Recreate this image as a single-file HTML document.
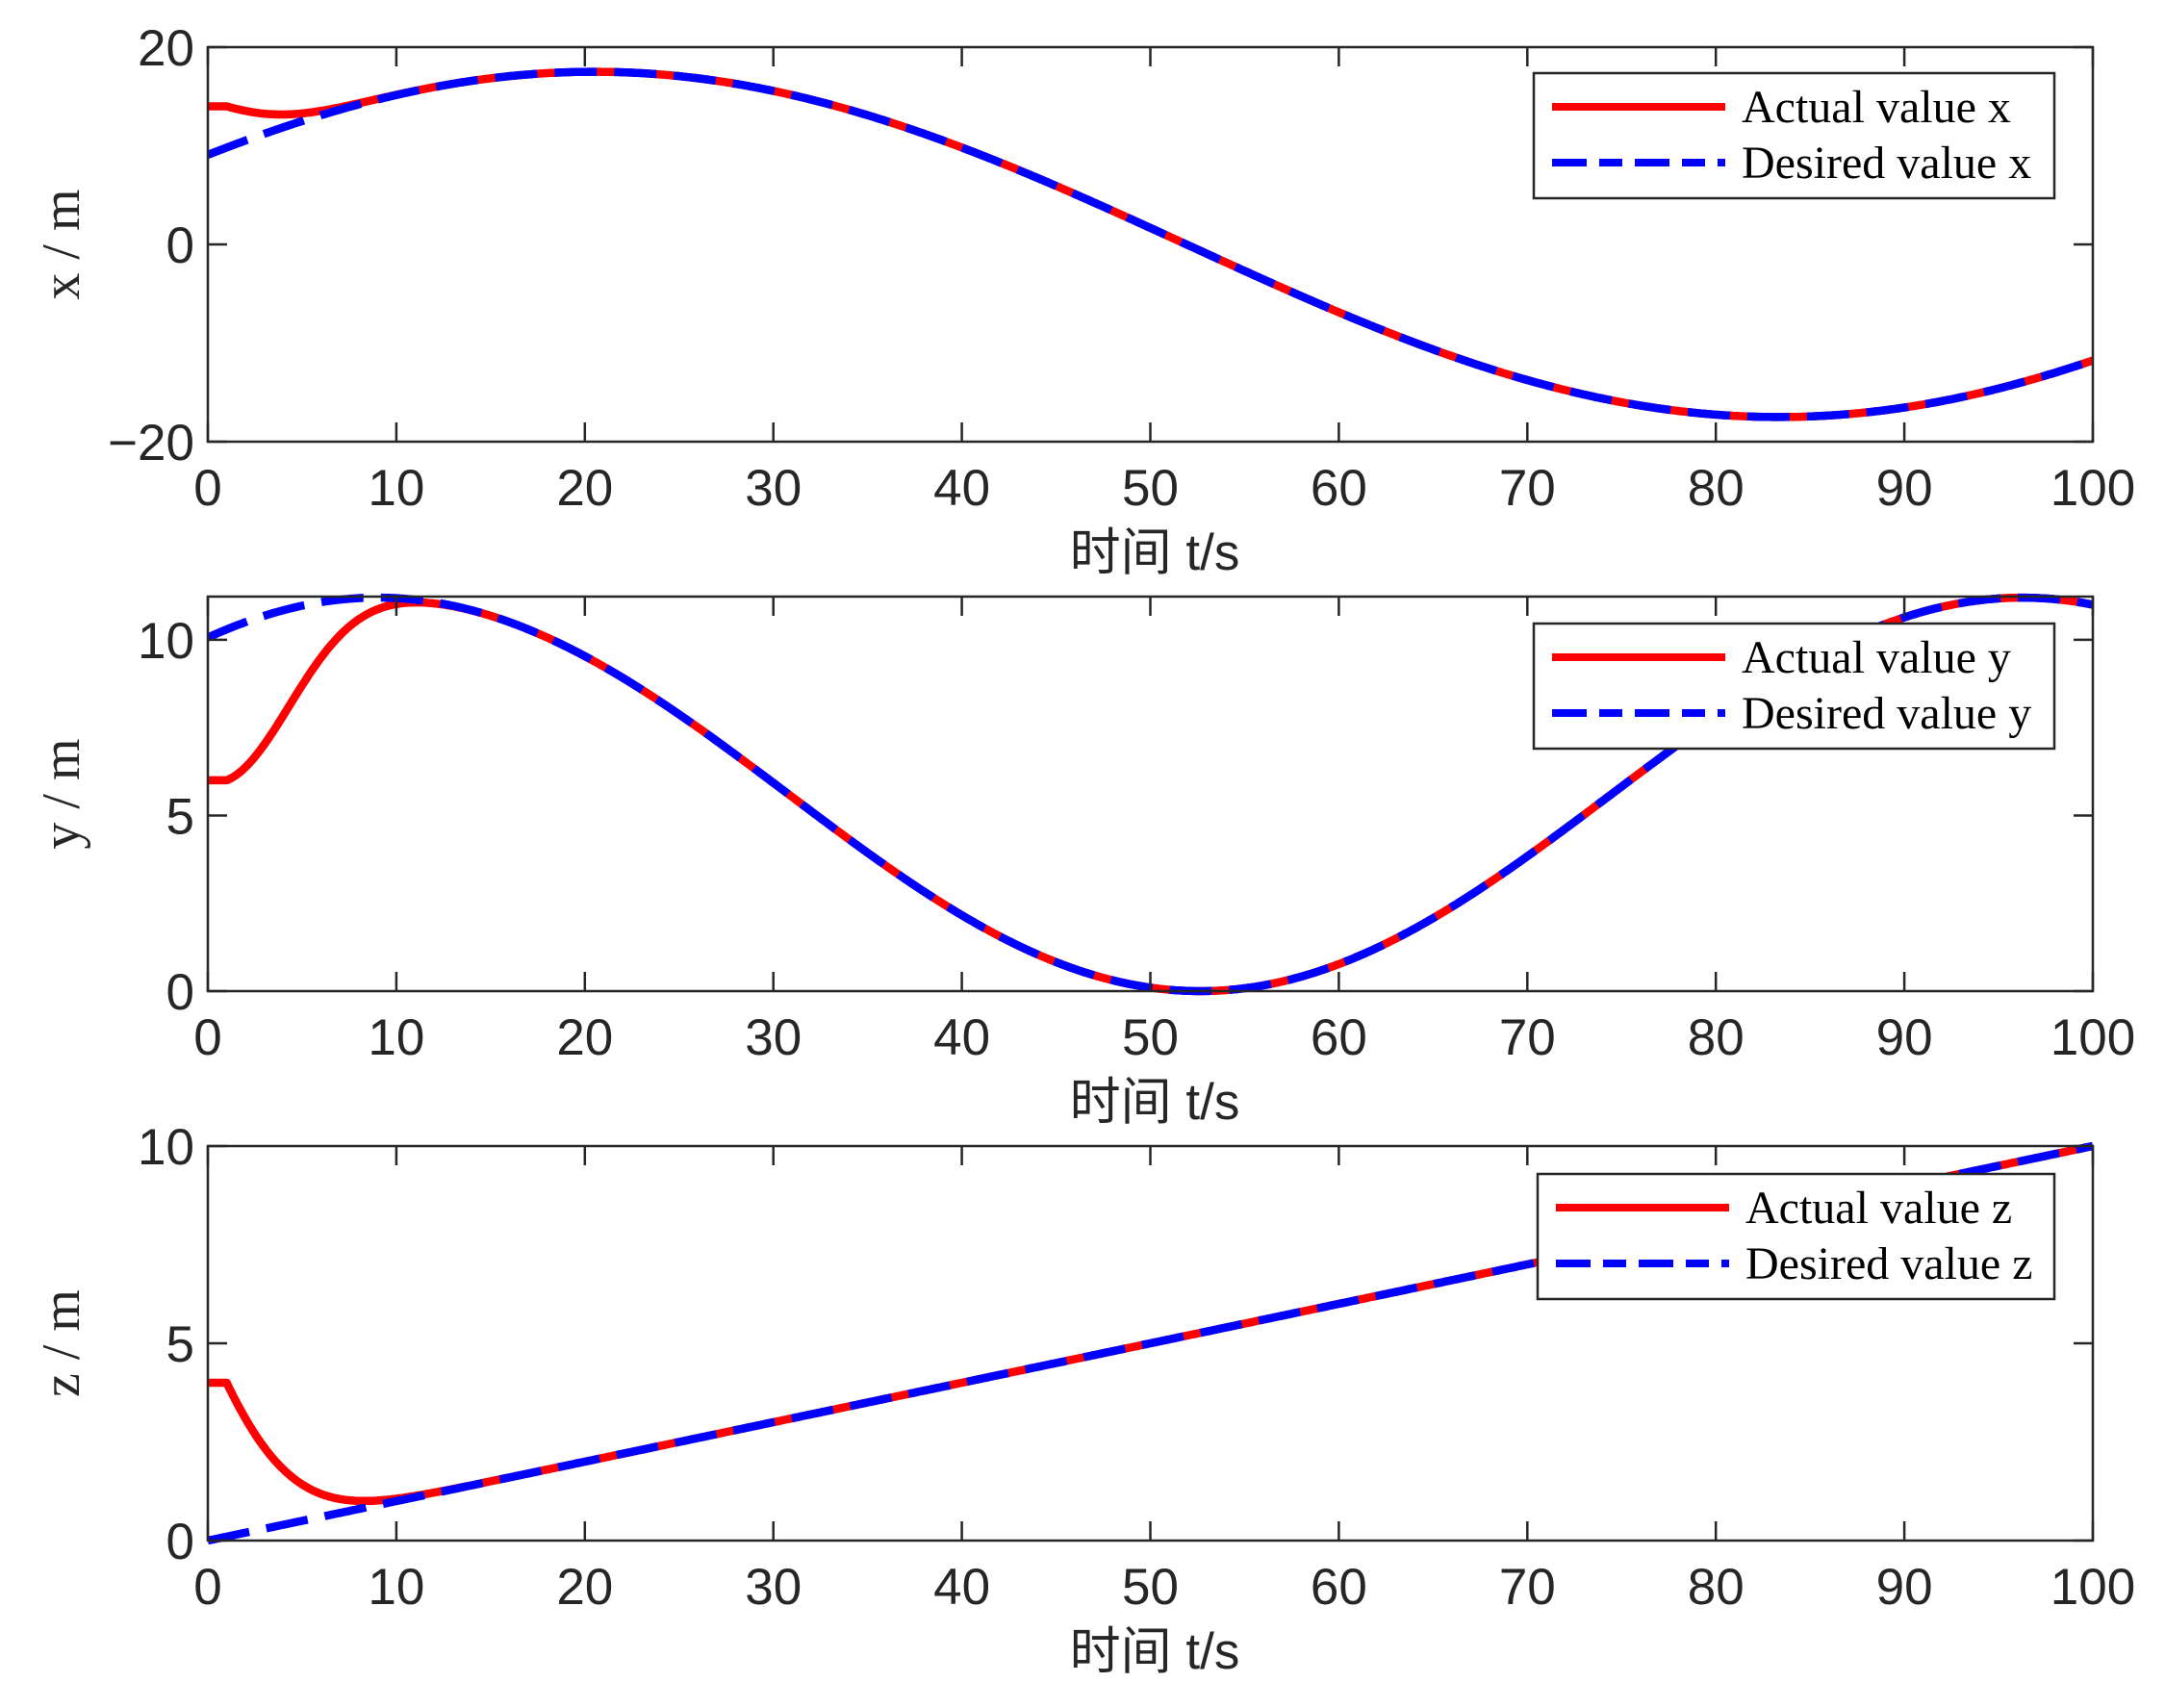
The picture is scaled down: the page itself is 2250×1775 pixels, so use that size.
<!DOCTYPE html>
<html><head><meta charset="utf-8"><style>
html,body{margin:0;padding:0;background:#fff;}
svg{display:block;}
.tk{font-family:"Liberation Sans",Arial,sans-serif;font-size:53px;fill:#262626;}
.xl{font-family:"Liberation Sans","Noto Sans CJK SC",sans-serif;font-size:53px;fill:#262626;}
.yl{font-family:"Liberation Serif",serif;font-size:56px;fill:#262626;}
.lg{font-family:"Liberation Serif",serif;font-size:48px;fill:#000;}
</style></head><body>
<svg id="s" width="2250" height="1775" xmlns="http://www.w3.org/2000/svg"></svg>
<script>
const S=document.getElementById('s');
const L=216,R=2175,W=R-L,H=410;
const tops=[49,620,1191];
const ranges=[[-20,20],[0,11.23],[0,10]];
const yt=[[-20,0,20],[0,5,10],[0,5,10]];
const yl=['x / m','y / m','z / m'];
const lab=['x','y','z'];
function xd(t){return 17.5*Math.cos(0.05*(t-20.5));}
function yd(t){return 5.6+5.6*Math.cos(0.072*(t-9));}
function zd(t){return 0.1*t;}
function act(f,s,k,c,g){return t=>{ if(t<=1) return s; const e1=s-f(1); const u=t-1; return f(t)+e1*(g?Math.exp(-Math.pow(u/k,2)):Math.exp(-k*u-c*u*u));};}
const des=[xd,yd,zd];
const acts=[act(xd,14,0.3,0.03,false),act(yd,6,5.0,0,true),act(zd,4,0.28,0.02,false)];
let h='';
for(let p=0;p<3;p++){
 const T=tops[p],[a,b]=ranges[p];
 const X=t=>L+t/100*W, Y=v=>T+H-(v-a)/(b-a)*H;
 function path(f){let d='';for(let i=0;i<=1000;i++){const t=i/10;d+=(i?'L':'M')+X(t).toFixed(1)+' '+Y(f(t)).toFixed(1);}return d;}
 h+=`<defs><clipPath id="c${p}"><rect x="${L}" y="${T-5}" width="${W}" height="${H+10}"/></clipPath></defs>`;
 h+=`<g clip-path="url(#c${p})"><path d="${path(acts[p])}" fill="none" stroke="#ff0000" stroke-width="8.5" stroke-linejoin="round"/>`;
 h+=`<path d="${path(des[p])}" fill="none" stroke="#0000ff" stroke-width="8.5" stroke-dasharray="44 18"/></g>`;
 h+=`<rect x="${L}" y="${T}" width="${W}" height="${H}" fill="none" stroke="#262626" stroke-width="2.5"/>`;
 for(let t=0;t<=100;t+=10){const x=X(t);
  h+=`<line x1="${x}" y1="${T}" x2="${x}" y2="${T+20}" stroke="#262626" stroke-width="2.5"/><line x1="${x}" y1="${T+H}" x2="${x}" y2="${T+H-20}" stroke="#262626" stroke-width="2.5"/>`;
  h+=`<text class="tk" x="${x}" y="${T+H+66}" text-anchor="middle">${t}</text>`;}
 for(const v of yt[p]){const y=Y(v);
  h+=`<line x1="${L}" y1="${y}" x2="${L+20}" y2="${y}" stroke="#262626" stroke-width="2.5"/><line x1="${R}" y1="${y}" x2="${R-20}" y2="${y}" stroke="#262626" stroke-width="2.5"/>`;
  h+=`<text class="tk" x="${L-14}" y="${y+19}" text-anchor="end">${v<0?'\u2212'+(-v):v}</text>`;}
 h+=`<text class="xl" x="1200" y="${T+H+133}" text-anchor="middle">时间 t/s</text>`;
 const cy=T+H/2; h+=`<text class="yl" transform="translate(82,${cy}) rotate(-90)" text-anchor="middle">${yl[p]}</text>`;
 const lt=[76,648,1220][p], lx=p==2?1598:1594;
 h+=`<rect x="${lx}" y="${lt}" width="${2135-lx}" height="130" fill="#fff" stroke="#262626" stroke-width="2.5"/>`;
 h+=`<line x1="${lx+19}" y1="${lt+35}" x2="${lx+199}" y2="${lt+35}" stroke="#ff0000" stroke-width="8"/>`;
 h+=`<line x1="${lx+19}" y1="${lt+93}" x2="${lx+199}" y2="${lt+93}" stroke="#0000ff" stroke-width="8" stroke-dasharray="36 13 24 13"/>`;
 h+=`<text class="lg" x="${lx+216}" y="${lt+51}">Actual value ${lab[p]}</text>`;
 h+=`<text class="lg" x="${lx+216}" y="${lt+109}">Desired value ${lab[p]}</text>`;
}
S.innerHTML=h;
</script>
</body></html>
